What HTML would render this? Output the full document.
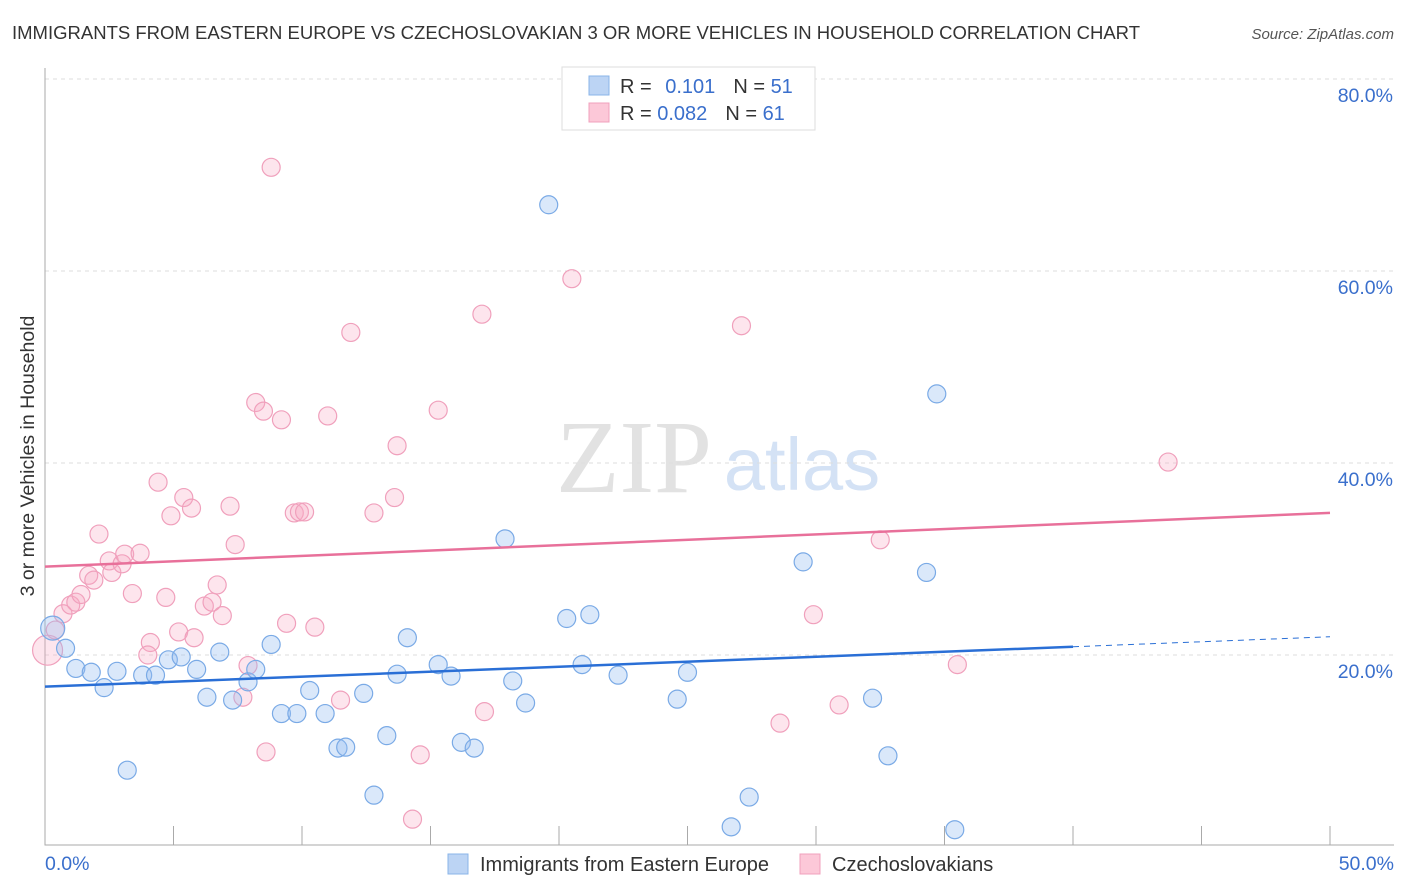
<!DOCTYPE html>
<html><head><meta charset="utf-8"><style>
body{margin:0;background:#fff;font-family:"Liberation Sans",sans-serif}
</style></head><body>
<svg id="chart" width="1406" height="892" xmlns="http://www.w3.org/2000/svg" style="display:block">
<text x="12" y="39" font-size="18" fill="#333" textLength="1128" lengthAdjust="spacingAndGlyphs">IMMIGRANTS FROM EASTERN EUROPE VS CZECHOSLOVAKIAN 3 OR MORE VEHICLES IN HOUSEHOLD CORRELATION CHART</text>
<text x="1394" y="39" font-size="15" fill="#555" font-style="italic" text-anchor="end">Source: ZipAtlas.com</text>
<g>
<text x="634" y="492" font-size="104" font-family="Liberation Serif,serif" fill="#e2e2e2" text-anchor="middle">ZIP</text>
<text x="802" y="490" font-size="74" fill="#d4e2f5" text-anchor="middle">atlas</text>
</g>
<g id="grid"></g>
<g id="axes"></g>
<g id="marks"></g>
<text transform="translate(34,456) rotate(-90)" font-size="19.5" fill="#333" text-anchor="middle">3 or more Vehicles in Household</text>
<g>
<rect x="562" y="67" width="253" height="63" fill="#fff" stroke="#ddd"/>
<rect x="589" y="76" width="20" height="19" fill="#bcd4f4" stroke="#8ab4e8"/>
<rect x="589" y="103" width="20" height="19" fill="#fcc8d8" stroke="#f0a0bc"/>
<text x="620" y="93" font-size="20" fill="#333">R = <tspan fill="#3a6fcc" dx="8">0.101</tspan><tspan dx="18" fill="#333">N = </tspan><tspan fill="#3a6fcc">51</tspan></text>
<text x="620" y="120" font-size="20" fill="#333">R = <tspan fill="#3a6fcc">0.082</tspan><tspan dx="18" fill="#333">N = </tspan><tspan fill="#3a6fcc">61</tspan></text>
</g>
<g>
<rect x="448" y="854" width="20" height="20" fill="#bcd4f4" stroke="#8ab4e8"/>
<text x="480" y="871" font-size="20" fill="#333">Immigrants from Eastern Europe</text>
<rect x="800" y="854" width="20" height="20" fill="#fcc8d8" stroke="#f0a0bc"/>
<text x="832" y="871" font-size="20" fill="#333">Czechoslovakians</text>
</g>
</svg>
<script>
const yTicks=[20,40,60,80];
const yTickLabels=["20.0%","40.0%","60.0%","80.0%"];
const xTicks=[0,5,10,15,20,25,30,35,40,45,50];
const blueX=[0.3,0.8,1.2,1.8,2.3,2.8,3.2,3.8,4.3,4.8,5.3,5.9,6.3,6.8,7.3,7.9,8.2,8.8,9.2,9.8,10.3,10.9,11.4,11.7,12.4,12.8,13.3,13.7,14.1,15.3,15.8,16.2,16.7,17.9,18.2,18.7,19.6,20.3,20.9,21.2,22.3,24.6,25.0,26.7,27.4,29.5,32.2,32.8,34.3,34.7,35.4];
const blueY=[22.8,20.7,18.6,18.2,16.6,18.3,8.0,17.9,17.9,19.5,19.8,18.5,15.6,20.3,15.3,17.2,18.5,21.1,13.9,13.9,16.3,13.9,10.3,10.4,16.0,5.4,11.6,18.0,21.8,19.0,17.8,10.9,10.3,32.1,17.3,15.0,66.9,23.8,19.0,24.2,17.9,15.4,18.2,2.1,5.2,29.7,15.5,9.5,28.6,47.2,1.8];
const pinkX=[0.1,0.4,0.7,1.0,1.2,1.4,1.7,1.9,2.1,2.5,2.6,3.0,3.1,3.7,3.4,4.4,4.7,4.9,4.1,4.0,5.2,5.4,5.7,5.8,6.2,6.5,6.7,6.9,7.2,7.4,7.7,7.9,8.2,8.5,8.6,8.8,9.2,9.4,9.7,9.9,10.1,10.5,11.0,11.5,11.9,12.8,13.6,13.7,14.6,14.3,15.3,17.0,17.1,20.5,27.1,28.6,29.9,30.9,32.5,35.5,43.7];
const pinkY=[20.5,22.6,24.3,25.2,25.5,26.3,28.3,27.8,32.6,29.8,28.6,29.5,30.5,30.6,26.4,38.0,26.0,34.5,21.3,20.0,22.4,36.4,35.3,21.8,25.1,25.5,27.3,24.1,35.5,31.5,15.6,18.9,46.3,45.4,9.9,70.8,44.5,23.3,34.8,34.9,34.9,22.9,44.9,15.3,53.6,34.8,36.4,41.8,9.6,2.9,45.5,55.5,14.1,59.2,54.3,12.9,24.2,14.8,32.0,19.0,40.1];
const blueTrend=[16.7,21.9]; // y at x=0 and x=50
const pinkTrend=[29.2,34.8];
const NS="http://www.w3.org/2000/svg";
const X=v=>45+v*(1285/50);
const Y=v=>847-v*9.6;
function mk(tag,attrs,parent){const e=document.createElementNS(NS,tag);for(const k in attrs)e.setAttribute(k,attrs[k]);document.getElementById(parent).appendChild(e);return e;}
yTicks.forEach((t,i)=>{
 const g=mk('line',{x1:45,x2:1394,y1:Y(t),y2:Y(t),stroke:'#ddd','stroke-dasharray':'4,4'},'grid');
 
 
 const l=mk('text',{x:1393,y:Y(t)+23,'font-size':19.5,fill:'#3a6fcc','text-anchor':'end'},'grid');
 l.textContent=yTickLabels[i];
 
 
});
const ax=mk('path',{d:'M45,68V845H1394',stroke:'#aaa',fill:'none'},'axes');


xTicks.forEach(t=>{
 const k=mk('line',{x1:X(t),x2:X(t),y1:826,y2:845,stroke:'#aaa'},'axes');
 
 
});
const xl0=mk('text',{x:45,y:870,'font-size':19.5,fill:'#3a6fcc'},'axes');xl0.textContent=xTicks[0].toFixed(1)+'%';


const xl1=mk('text',{x:1394,y:870,'font-size':19.5,fill:'#3a6fcc','text-anchor':'end'},'axes');xl1.textContent=xTicks[xTicks.length-1].toFixed(1)+'%';


function pts(xs,ys,fill,stroke,name){
 xs.forEach((x,i)=>{
  const c=mk('circle',{cx:X(x),cy:Y(ys[i]),r:i===0?(name==='pink-point'?15:12):9,fill:fill,stroke:stroke,'stroke-width':1.2},'marks');
  
  
 });
}
pts(pinkX,pinkY,'rgba(248,170,195,0.3)','#f0a0bc','pink-point');
pts(blueX,blueY,'rgba(150,190,240,0.35)','#7aaae6','blue-point');
const bl=mk('line',{x1:X(0),y1:Y(blueTrend[0]),x2:X(40),y2:Y(blueTrend[0]+(blueTrend[1]-blueTrend[0])*0.8),stroke:'#2a6fd6','stroke-width':2.5},'marks');


const bd=mk('line',{x1:X(40),y1:Y(blueTrend[0]+(blueTrend[1]-blueTrend[0])*0.8),x2:X(50),y2:Y(blueTrend[1]),stroke:'#2a6fd6','stroke-width':1,'stroke-dasharray':'6,5'},'marks');


const pl=mk('line',{x1:X(0),y1:Y(pinkTrend[0]),x2:X(50),y2:Y(pinkTrend[1]),stroke:'#e8709a','stroke-width':2.5},'marks');


</script>
</body></html>
